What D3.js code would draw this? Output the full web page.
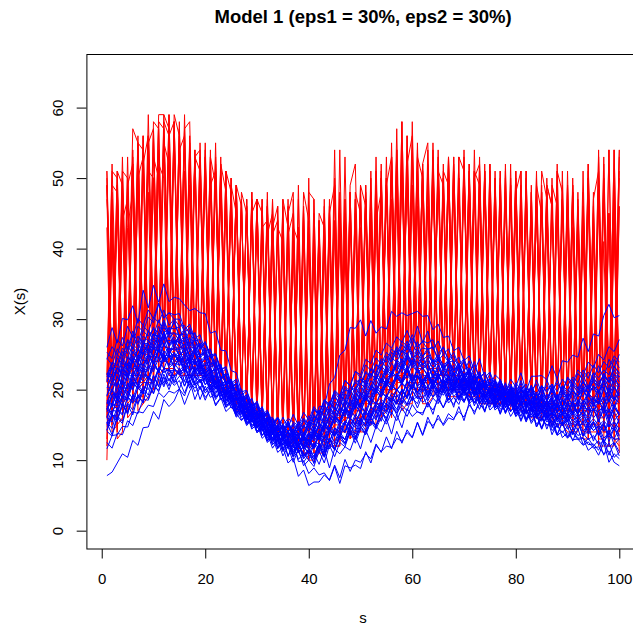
<!DOCTYPE html>
<html>
<head>
<meta charset="utf-8">
<script src="https://cdn.jsdelivr.net/npm/d3@7"></script>
<style>
  body { margin: 0; background: #fff; }
  svg { display: block; }
  text { font-family: "Liberation Sans", Arial, Helvetica, sans-serif; fill: #000; }
</style>
</head>
<body>
<svg id="chart" width="633" height="629"></svg>
<script>
// Grid of evaluation points s = 1..100
const sValues = d3.range(1, 101);
const xTicks = [0, 20, 40, 60, 80, 100];
const yTicks = [0, 10, 20, 30, 40, 50, 60];

// Contaminated curves (drawn in red)
const redCurves = [
  [10,41,13,14,43,48,17,18,48,20,21,55,52,22,23,22,49,22,22,53,21,21,20,46,19,18,47,17,16,46,15,14,42,44,13,12,12,43,11,10,40,11,11,46,12,12,40,13,14,14,46,15,45,16,17,50,18,18,19,49,19,19,46,20,19,51,49,20,20,20,47,19,19,51,18,18,18,48,18,17,46,17,16,16,47,16,15,48,15,14,14,44,13,13,45,13,41,12,12,46],
  [49,19,20,49,22,23,55,54,24,25,58,26,26,25,54,56,25,24,51,24,23,52,21,20,47,19,18,17,48,16,45,15,15,14,47,43,13,13,41,12,13,13,46,14,15,44,16,16,48,45,18,18,19,52,20,20,51,21,56,22,22,49,22,21,52,21,21,21,50,21,20,50,52,20,20,47,19,19,19,50,18,18,45,18,17,49,46,17,17,47,17,17,17,50,17,18,17,45,16,17],
  [15,16,46,18,19,51,20,21,22,50,23,24,56,58,24,24,23,53,23,23,49,21,50,20,19,49,18,17,16,44,15,46,14,13,13,12,42,12,11,44,11,41,12,13,44,14,14,45,15,16,16,45,17,18,50,19,19,55,20,21,50,21,21,52,21,21,21,48,21,51,20,20,20,20,52,19,47,19,49,18,18,51,17,46,17,17,16,16,47,16,43,15,45,15,15,47,14,14,42,14],
  [21,51,50,23,24,25,56,26,26,27,59,59,28,28,27,57,26,26,53,25,24,23,52,48,20,20,19,47,17,17,47,15,15,44,14,14,13,47,13,13,42,14,15,47,16,17,53,18,18,49,46,20,20,21,53,22,22,58,23,24,24,52,55,23,23,22,50,22,22,53,21,21,21,51,20,48,20,20,20,51,19,19,46,19,49,18,18,49,18,18,47,19,19,52,19,19,49,20,20,54],
  [43,14,15,44,47,18,19,19,51,50,22,23,23,56,22,22,52,22,22,22,49,51,20,19,47,17,17,16,48,15,15,14,41,13,13,42,45,12,11,42,11,12,41,12,13,45,14,14,44,15,15,16,44,48,17,18,51,19,19,49,20,20,20,52,20,48,20,20,50,20,19,50,19,19,46,18,18,50,18,18,46,17,17,17,17,49,46,16,16,46,15,15,43,14,14,14,14,45,13,13],
  [17,48,19,20,53,22,22,52,56,24,24,25,57,25,24,54,24,23,23,51,22,21,52,20,19,18,48,45,17,16,16,47,15,14,43,13,13,13,46,12,13,43,14,15,43,16,16,48,17,18,18,48,19,20,20,53,21,22,52,56,23,22,49,22,22,22,53,22,22,22,50,21,21,52,20,20,47,19,19,49,18,18,18,49,45,18,17,17,49,17,17,46,17,17,47,51,18,18,49,18],
  [51,21,51,22,23,54,24,25,25,58,57,27,27,58,26,26,25,54,24,24,54,22,21,48,19,49,18,17,17,47,16,15,43,46,14,14,13,43,13,13,47,14,15,44,16,16,17,48,18,18,48,19,19,48,20,20,21,54,22,22,53,50,22,21,51,21,21,53,21,21,20,20,49,20,20,50,19,19,47,19,18,50,18,18,18,48,18,18,47,18,50,19,19,51,19,20,50,20,21,54],
  [12,44,14,45,16,17,51,18,19,20,52,50,22,22,56,22,22,22,51,22,21,53,20,20,49,45,18,17,16,16,46,14,14,46,13,12,42,11,45,10,10,11,42,12,12,12,42,13,45,14,14,45,15,16,49,16,48,17,18,18,46,18,18,19,51,49,19,19,19,50,19,48,18,18,18,18,51,18,17,48,17,17,45,16,16,48,16,15,15,44,14,14,44,13,42,12,12,12,44,11],
  [19,20,51,49,22,23,23,56,24,25,25,59,57,26,25,25,55,24,24,52,23,22,21,51,19,19,47,17,47,16,16,15,47,14,14,42,13,13,13,48,47,14,15,46,16,54,17,17,18,48,19,19,49,20,21,53,22,22,23,58,23,52,22,50,22,22,53,22,22,22,51,21,21,20,52,20,19,48,19,19,49,18,18,51,18,18,47,17,17,17,49,17,17,52,17,16,16,54,16,46],
  [51,17,18,19,49,52,21,22,22,56,23,24,24,59,56,24,23,54,23,23,22,51,21,20,49,18,18,46,17,16,16,46,15,14,47,13,13,43,12,12,13,45,43,14,15,15,47,16,17,17,47,18,18,51,19,20,54,20,51,21,21,21,52,21,21,50,21,21,53,51,20,20,20,51,20,19,19,52,19,19,48,18,18,50,18,17,17,51,48,17,17,47,18,18,18,54,18,19,54,19],
  [22,52,24,24,25,57,55,27,59,28,28,29,59,28,28,57,58,27,26,26,53,24,53,22,21,49,19,18,18,47,45,16,16,15,46,15,14,14,46,14,15,44,16,16,54,17,18,49,52,19,20,20,51,21,22,55,23,58,24,24,24,52,23,23,54,23,52,22,22,22,52,21,53,21,20,20,50,20,20,50,19,51,19,19,48,18,18,18,51,18,18,18,48,18,19,19,53,19,19,19],
  [50,15,49,17,18,19,50,53,21,21,54,23,23,23,58,22,22,53,51,22,21,21,50,19,19,18,47,17,16,47,15,14,47,13,13,12,43,41,11,11,42,12,13,45,14,14,44,15,16,16,47,17,18,18,50,19,20,52,21,21,51,21,21,54,21,21,21,51,21,21,20,51,49,20,20,51,19,19,49,18,18,18,48,17,17,17,49,46,16,16,48,16,15,50,15,15,52,15,15,50],
  [18,19,19,51,50,22,22,23,56,24,24,57,25,58,24,24,54,23,23,23,53,49,21,20,19,48,18,17,46,16,16,46,15,14,14,47,13,13,48,44,14,14,45,15,16,47,17,17,18,47,18,51,19,50,20,20,57,21,22,53,22,21,54,21,21,21,51,21,53,21,20,51,20,20,49,19,19,51,19,19,18,48,18,18,51,47,17,17,17,51,17,48,17,17,17,50,17,17,54,17],
  [16,49,48,18,19,52,21,21,22,57,23,24,55,24,24,59,23,23,23,53,22,21,21,51,48,18,18,47,16,16,47,14,14,43,41,13,12,49,12,12,13,44,14,14,50,15,16,46,17,17,49,18,49,19,20,53,21,21,53,22,55,21,21,21,51,21,21,52,21,21,52,20,20,50,20,50,19,19,19,51,18,18,48,18,18,17,50,17,17,17,48,17,17,17,46,18,18,54,18,18],
  [49,21,22,53,23,24,24,56,25,26,58,57,27,27,57,26,26,25,55,25,24,55,22,21,20,49,46,18,17,47,16,15,46,14,14,13,47,13,12,12,45,13,14,45,49,15,16,16,47,17,17,50,18,19,50,20,20,53,21,21,21,51,21,53,21,50,21,21,21,54,20,20,51,20,20,19,51,19,19,48,51,18,17,48,17,17,16,51,16,16,16,45,15,15,48,15,14,14,50,14],
  [15,16,49,18,50,21,22,22,55,57,24,25,59,25,24,24,56,24,23,54,22,21,51,20,50,18,18,17,47,16,16,48,15,14,14,45,48,14,13,50,14,14,47,15,16,16,47,17,18,49,19,19,53,20,21,21,54,22,56,23,54,22,22,55,22,22,53,22,22,52,21,54,21,20,51,20,19,19,52,19,19,49,19,19,18,50,18,52,18,18,18,18,51,19,19,53,19,20,20,53],
  [16,47,18,47,20,21,21,53,22,23,52,24,24,56,24,51,23,23,53,23,50,21,21,51,19,18,18,46,17,16,43,15,45,14,14,13,41,13,44,12,12,43,13,14,14,43,15,48,16,16,17,45,18,18,49,19,20,51,21,21,48,21,21,21,53,21,21,50,21,21,51,20,20,48,20,19,49,19,19,19,51,18,18,46,18,18,47,17,17,49,17,17,45,17,17,16,47,16,45,16],
  [49,20,47,22,23,53,24,25,53,26,26,58,56,26,26,26,54,25,25,55,24,50,22,21,20,49,19,18,45,47,16,15,15,43,14,46,13,13,13,42,14,14,42,15,49,16,17,17,47,18,47,19,20,50,21,21,51,22,23,54,23,23,50,22,22,52,22,22,49,22,21,51,21,20,20,48,19,19,50,19,19,46,19,19,48,18,18,18,47,18,49,18,18,46,18,48,18,19,19,51],
  [13,43,15,16,48,19,50,20,21,53,50,23,23,23,55,22,22,51,22,22,51,21,48,19,50,18,46,17,16,16,43,44,14,13,42,12,12,43,11,11,41,12,12,41,13,13,45,14,14,43,15,16,46,17,17,47,18,19,52,20,20,48,20,51,20,20,49,20,20,52,19,19,47,19,49,18,18,49,18,46,17,17,49,16,16,44,16,46,15,15,14,45,14,14,43,13,13,45,13,12],
  [47,22,23,50,24,25,55,26,55,27,27,56,28,28,57,27,26,53,54,25,24,23,50,21,47,20,19,47,17,17,16,42,45,14,14,14,41,13,13,43,14,41,15,16,16,48,17,46,18,19,49,20,20,21,49,53,22,23,50,24,24,52,23,23,50,22,22,53,22,22,48,21,51,21,20,20,48,20,20,49,19,19,19,46,19,47,18,18,18,49,18,18,46,19,19,49,19,19,47,20]
];

// Regular curves (drawn in blue)
const blueCurves = [
  [7.8,8.3,9.6,10.9,10.4,12.8,12.1,14.6,14.7,16.9,15.8,18.6,17.6,18.4,20.1,17.9,19.8,21.1,18.6,20.5,18.9,19.4,20.8,18.1,19.3,16.8,18.5,15.9,17.6,14.6,15.5,13.1,14.7,11.8,13.3,10.6,12.4,9.8,9.9,8.1,8.9,7.9,8.2,7.1,9.1,6.7,9.2,8.9,9.3,8.8,11.2,9.6,12.1,11.2,12.0,11.8,13.1,12.7,13.9,13.2,15.4,13.6,16.1,14.5,16.4,14.9,16.0,15.7,17.6,15.6,18.2,16.5,18.6,16.8,19.2,17.4,19.3,16.8,18.6,16.5,18.3,15.8,17.6,14.7,16.5,14.4,16.3,13.6,15.5,13.3,14.1,13.1,13.2,12.2,12.3,11.4,13.0,10.7,12.4,10.6],
  [26.0,28.8,26.6,30.1,29.9,31.9,29.4,34.1,31.6,34.8,32.4,35.0,32.5,33.1,32.9,32.0,31.2,31.5,30.9,30.8,28.0,28.3,25.6,25.5,22.7,22.4,19.7,19.9,17.9,18.1,16.1,16.9,14.6,15.4,13.5,15.5,12.9,13.8,13.2,15.3,15.1,17.6,17.6,20.8,21.7,24.9,25.6,28.8,28.7,29.9,27.6,29.8,28.0,28.9,28.6,31.1,30.4,30.9,30.5,30.8,31.1,30.4,30.5,28.5,29.3,27.4,27.6,25.5,26.0,24.1,24.8,22.6,24.4,21.7,22.5,20.6,21.3,19.5,21.5,20.4,22.4,19.7,21.9,21.9,22.0,21.4,23.4,21.5,24.1,23.9,24.9,24.6,27.3,25.4,27.9,27.6,30.5,32.1,30.2,30.5],
  [11.6,13.5,13.6,14.8,14.7,16.9,16.6,18.6,18.5,20.5,19.9,22.2,20.5,23.1,22.1,22.6,20.6,23.3,22.2,22.4,20.5,22.3,19.6,20.5,19.5,18.4,18.9,17.9,18.0,15.7,17.4,14.5,15.0,13.9,13.9,11.7,13.5,11.2,11.9,11.0,11.0,9.4,11.5,8.9,11.6,10.9,11.9,11.4,13.4,11.6,14.3,12.5,14.8,14.0,15.9,13.7,16.5,14.6,17.3,16.2,16.9,16.4,18.3,16.5,19.1,17.4,19.5,17.5,20.3,18.4,20.0,17.7,19.6,16.9,19.4,17.4,18.1,17.9,18.8,16.5,17.6,15.6,17.5,14.7,15.9,15.0,15.0,13.5,14.1,13.1,13.9,12.9,13.1,11.4,12.0,10.7,12.5,9.7,10.9,10.2],
  [21.9,21.9,24.5,23.6,26.1,25.2,26.0,26.1,28.3,27.7,29.9,28.0,28.8,28.6,28.9,26.7,28.5,25.6,26.6,24.4,24.9,22.9,23.0,20.7,21.3,19.1,19.4,17.4,18.0,16.1,16.3,15.2,15.8,13.7,14.9,14.1,14.4,13.2,15.0,14.1,16.1,15.9,17.9,16.7,19.3,17.6,19.9,19.7,21.0,20.4,22.4,21.6,23.5,22.9,24.8,24.0,25.9,23.7,26.3,24.5,25.0,24.2,24.8,23.9,24.1,23.1,23.9,22.9,23.1,21.4,22.5,20.6,22.4,20.4,21.1,19.5,21.5,19.4,20.1,19.1,19.9,19.6,20.1,18.4,19.3,19.0,19.8,18.2,19.1,18.9,19.9,19.1,20.0,19.7,20.3,19.4,21.4,19.5,21.8,20.4],
  [15.3,17.1,16.9,18.9,18.4,21.1,20.1,21.0,21.0,23.3,22.7,24.6,23.5,25.3,23.4,25.1,22.6,24.4,22.2,22.9,21.1,22.1,20.0,20.8,18.6,19.5,17.5,18.1,16.2,17.0,15.1,15.9,13.7,14.8,13.1,14.0,12.9,13.1,12.1,13.0,11.7,13.6,11.9,14.4,13.4,14.4,15.5,14.9,16.0,15.4,17.5,16.4,18.1,17.5,19.3,18.2,20.0,19.1,21.3,20.2,21.9,20.9,22.5,20.6,21.8,21.0,21.9,20.9,21.1,20.2,21.4,19.6,21.3,19.2,20.1,19.1,19.9,18.4,20.3,18.1,19.0,18.0,18.8,16.7,18.5,16.5,17.6,16.9,17.8,16.1,17.0,16.1,16.9,14.9,17.4,15.4,17.3,14.7,16.9,15.2],
  [20.0,19.7,21.8,21.1,23.6,22.9,24.9,24.1,26.4,25.7,27.6,26.5,27.0,26.7,26.9,24.7,25.5,23.6,24.3,22.4,23.1,21.0,21.9,19.4,20.0,17.7,18.3,16.2,17.1,16.6,15.0,15.9,13.9,14.8,13.1,14.1,13.0,13.8,11.9,13.9,13.1,15.0,14.2,16.1,15.2,17.4,16.7,18.5,17.4,19.4,18.5,20.5,19.9,21.6,20.6,22.5,21.9,23.6,21.6,23.5,22.4,23.1,22.1,22.9,21.4,23.3,21.2,22.4,20.6,22.3,20.4,21.4,19.6,20.8,19.1,20.1,19.0,19.8,18.1,19.0,18.0,18.9,17.2,18.1,17.1,17.9,16.4,18.3,16.6,18.4,16.7,18.6,17.9,19.5,17.6,19.6,17.7,20.3,18.4,20.0],
  [21.8,23.6,22.9,25.4,24.4,26.5,25.6,27.6,26.9,28.9,26.7,29.3,27.4,28.0,27.7,27.9,25.6,27.3,24.7,25.6,23.5,24.0,21.7,22.3,20.1,20.9,18.6,19.3,17.2,18.1,16.1,16.9,15.1,16.0,14.4,15.6,13.7,15.5,14.5,16.3,15.4,17.1,16.5,18.3,17.4,19.1,18.6,20.5,19.9,21.9,21.1,23.0,22.4,24.4,23.9,25.8,24.9,26.9,26.1,27.8,26.0,26.9,26.6,27.1,25.1,26.0,24.2,25.3,23.4,24.4,22.5,23.5,21.6,22.5,20.6,21.5,19.7,20.8,19.1,21.0,19.9,20.8,19.1,21.4,19.5,20.6,19.9,20.9,19.7,21.6,20.5,22.3,21.4,22.5,21.6,23.4,21.5,24.3,23.1,25.0],
  [14.2,16.3,15.6,18.1,16.5,19.3,18.7,20.5,20.0,22.0,20.5,23.1,22.6,22.8,22.1,23.3,21.2,22.0,21.0,21.6,19.9,20.9,19.0,19.8,18.1,18.9,16.6,17.3,15.4,16.1,14.2,15.0,12.9,13.9,12.1,13.0,10.9,12.5,10.5,11.3,10.2,12.3,10.6,13.1,11.5,13.6,12.9,15.0,14.1,15.8,15.0,17.1,16.1,18.1,16.9,18.8,18.0,20.1,18.9,20.6,19.7,20.8,19.1,21.3,19.6,20.5,18.5,20.4,18.8,19.8,19.0,18.1,20.1,18.2,18.9,17.9,18.6,16.7,18.5,16.9,17.8,16.7,17.6,16.0,16.9,15.9,16.6,14.6,16.5,14.9,15.8,14.9,15.1,14.2,15.5,13.5,15.4,12.6,14.6,13.4],
  [21.3,20.6,23.1,22.2,24.5,23.9,25.6,25.0,26.5,24.6,27.1,25.1,25.9,25.6,25.8,23.6,24.8,23.9,24.0,22.2,22.9,20.7,21.5,19.6,20.4,18.4,19.0,16.7,17.6,15.6,16.5,14.5,15.1,13.4,14.0,13.0,13.6,11.7,13.5,12.5,14.5,13.4,15.4,14.4,16.1,15.5,17.4,16.6,18.5,17.5,19.4,18.6,20.3,19.5,21.4,20.4,22.3,21.4,23.3,21.5,22.1,21.2,22.4,20.5,21.8,21.1,21.9,19.7,21.6,19.5,21.3,19.4,20.0,19.1,19.9,18.9,19.8,18.1,20.1,17.6,19.6,17.5,18.3,18.0,18.8,17.9,18.6,17.5,19.5,17.4,20.3,18.1,19.8,19.0,20.6,18.5,21.3,19.1,20.9,20.1],
  [18.1,17.5,20.3,19.4,22.1,20.5,23.3,22.4,24.4,23.9,25.5,24.7,25.0,24.0,24.6,22.5,24.3,22.1,23.3,21.2,21.9,20.1,20.8,18.6,19.1,17.2,17.9,15.7,16.6,14.5,15.6,13.5,14.1,13.0,13.0,12.1,12.8,11.1,12.0,11.7,13.6,12.9,15.1,14.1,16.3,15.2,17.3,16.1,17.9,17.4,16.9,18.8,17.9,19.9,18.9,20.9,19.9,20.8,20.0,22.1,20.4,22.3,20.5,21.5,20.7,21.6,19.6,21.4,19.5,21.3,19.4,20.5,18.5,19.8,18.9,19.6,17.6,19.4,17.9,18.8,17.7,18.0,16.4,18.3,15.7,17.5,15.4,16.1,15.2,15.9,15.0,15.8,14.1,15.0,14.2,14.9,14.1,15.1,14.2,15.9],
  [24.3,26.1,24.9,27.4,25.7,28.3,26.6,29.1,28.2,30.3,29.5,31.3,29.1,30.0,29.0,29.1,27.9,28.0,26.1,26.8,24.9,25.1,23.0,23.1,20.6,21.3,18.7,19.3,17.4,18.4,16.4,17.1,15.4,16.1,15.0,15.9,15.4,14.9,16.0,15.1,17.3,16.5,18.3,17.6,19.8,19.0,21.3,20.5,22.6,22.1,24.3,23.7,25.6,24.9,26.6,25.9,27.5,26.7,28.4,26.5,29.0,26.7,28.3,25.7,26.9,25.0,25.8,23.7,24.6,22.6,24.1,21.7,22.6,20.6,22.3,19.7,20.9,18.7,20.5,18.5,20.0,19.1,19.3,18.4,20.4,18.5,19.3,18.6,20.3,18.5,20.5,19.9,21.0,20.1,21.1,20.5,22.3,21.1,22.0,21.9],
  [15.3,13.6,16.3,15.5,18.1,17.1,19.3,18.2,21.0,19.5,22.1,20.4,22.4,20.9,21.9,21.1,21.1,20.2,21.3,19.5,20.5,18.6,19.8,18.0,18.9,16.6,17.6,15.7,16.9,15.1,15.9,13.9,14.9,13.4,14.1,12.5,13.8,11.9,14.0,13.2,15.3,14.4,16.4,15.4,17.5,16.5,18.6,17.6,19.5,18.6,20.6,19.9,21.9,21.1,22.9,22.1,23.8,22.9,24.6,23.1,23.9,22.9,23.6,21.6,23.5,21.4,23.3,20.7,22.5,20.5,21.6,19.6,20.8,19.1,19.9,18.6,20.5,18.2,19.1,17.5,19.5,17.4,19.4,16.7,18.6,17.4,19.3,17.5,19.6,18.9,19.9,19.1,20.6,19.5,21.4,19.6,21.6,20.4,22.3,21.1],
  [17.2,19.3,19.0,22.0,21.2,24.1,22.5,25.3,24.4,26.4,25.4,27.3,25.2,26.0,25.7,25.9,23.6,25.3,22.7,23.6,21.4,22.0,19.7,20.5,18.4,18.9,16.7,17.5,15.4,16.0,14.1,14.9,12.7,13.8,11.7,12.8,10.6,12.3,10.2,11.1,10.1,12.3,10.5,13.1,11.4,13.5,12.4,14.4,13.2,15.3,14.2,16.3,14.6,17.1,15.5,18.0,16.4,18.5,17.7,18.8,18.0,20.1,18.4,19.9,19.1,21.1,19.2,20.4,18.5,20.3,18.4,19.1,18.0,19.5,17.5,19.3,17.2,18.0,16.9,17.8,15.7,17.5,15.5,16.6,14.6,16.5,15.0,15.8,14.9,15.6,13.6,15.5,13.4,14.1,13.1,13.9,12.4,14.3,12.2,13.0],
  [21.1,23.1,21.6,24.3,22.7,25.4,24.2,26.3,25.1,27.3,26.2,28.3,26.4,27.1,26.6,26.9,24.7,25.8,24.9,25.1,23.2,23.8,21.5,22.1,20.1,20.8,18.5,19.1,17.1,17.9,15.9,16.8,14.7,15.9,14.2,15.0,14.1,14.8,12.9,14.8,14.0,16.1,15.2,17.3,16.4,18.3,17.5,19.4,18.4,20.3,19.4,21.3,20.5,22.3,21.5,22.4,23.3,22.4,24.4,23.5,25.3,23.5,24.1,23.1,23.8,21.7,23.5,21.5,23.3,21.1,22.0,20.5,22.4,20.2,21.1,19.5,21.3,19.2,20.1,19.1,19.9,18.9,19.6,17.6,18.8,18.0,18.9,16.7,18.5,17.0,17.9,16.9,17.8,17.0,17.1,16.9,17.6,15.6,17.5,16.4],
  [12.5,11.7,13.8,13.6,15.6,14.9,16.9,16.7,17.8,17.6,19.6,18.9,19.8,19.5,20.1,19.1,21.3,18.6,20.4,18.5,20.3,17.7,18.8,17.9,18.0,16.2,17.1,15.1,15.8,13.9,14.5,12.5,13.3,11.1,11.8,9.6,10.3,7.7,8.6,6.4,6.9,6.9,7.9,7.2,9.3,7.5,10.1,8.4,10.0,9.7,10.9,10.2,12.3,11.1,13.3,11.6,14.1,12.4,14.3,13.2,15.3,13.5,15.5,14.9,15.9,15.1,16.6,15.9,16.9,16.1,17.8,16.9,17.9,17.1,18.6,17.9,18.8,16.6,18.3,16.2,16.9,15.9,16.2,16.5,14.4,16.3,13.6,15.3,13.2,13.9,12.9,13.0,12.1,12.6,11.7,11.9,10.9,11.3,9.7,9.2],
  [15.8,18.0,17.2,19.3,18.5,21.1,20.1,22.3,21.4,24.0,22.5,25.1,23.4,25.3,24.1,24.6,23.9,23.9,23.0,23.5,24.1,22.1,22.8,20.7,21.5,19.5,20.1,17.9,18.8,16.7,17.6,15.6,16.1,14.1,15.0,13.2,14.1,12.5,13.3,12.2,14.0,13.1,15.3,14.4,16.4,15.4,17.5,16.4,18.5,17.5,19.3,17.7,19.8,19.0,20.9,20.0,21.8,20.9,22.0,21.2,23.1,21.4,22.1,21.2,22.3,20.5,21.8,20.9,21.6,19.6,21.4,19.5,21.3,19.1,20.0,18.5,20.3,18.2,19.0,18.0,18.9,17.9,18.6,16.6,17.8,17.0,17.9,15.7,17.5,16.4,18.3,16.5,17.8,17.1,18.6,17.9,18.9,16.7,18.8,18.1],
  [22.3,22.1,24.9,24.4,27.1,26.5,29.0,28.2,30.3,29.5,32.1,30.1,30.9,30.6,30.8,28.5,29.3,27.2,27.8,25.5,25.8,23.2,23.5,21.0,21.1,18.6,19.1,17.1,17.8,15.7,16.5,14.4,15.0,13.2,13.9,11.7,12.8,11.9,13.0,12.1,14.3,13.2,15.4,14.4,16.3,15.5,17.4,16.4,18.3,17.4,19.3,18.5,20.3,19.5,21.3,20.4,22.3,21.2,22.9,21.7,22.0,21.1,21.9,20.2,22.3,20.4,22.1,19.9,20.9,19.4,21.3,19.1,19.9,18.4,20.4,18.4,19.1,18.1,20.1,17.6,19.4,17.4,18.1,17.9,18.6,18.0,18.8,16.6,18.6,17.9,19.5,17.5,20.3,18.2,19.0,18.1,20.4,18.4,20.5,19.2],
  [14.8,16.4,15.5,18.1,16.6,19.3,18.1,20.3,19.2,22.0,20.4,23.1,21.2,22.8,22.5,22.9,21.9,22.0,21.0,22.5,20.5,21.4,19.4,20.1,18.1,19.0,17.0,17.9,15.7,16.6,14.6,15.6,13.6,14.8,13.1,15.3,12.9,14.6,13.5,15.4,14.4,16.4,15.5,17.5,16.6,18.5,17.7,19.8,18.9,20.9,20.1,22.3,21.4,23.4,22.5,24.5,23.9,25.6,24.9,26.5,25.2,25.9,25.7,26.1,24.1,25.0,23.9,24.1,22.4,24.3,21.6,22.6,20.5,21.5,19.6,21.3,18.7,20.5,18.6,20.6,19.4,20.1,19.9,20.8,18.6,21.4,19.5,21.5,19.6,21.8,20.9,22.8,22.0,23.9,23.1,25.0,24.2,26.1,25.4,27.1],
  [18.1,20.1,18.6,21.3,20.2,22.4,21.9,23.5,23.0,24.6,23.9,25.5,24.6,24.9,23.9,24.5,22.4,24.1,22.0,22.8,21.1,21.8,19.6,20.4,18.4,18.9,16.7,17.5,15.4,16.1,14.1,14.9,12.9,13.8,12.1,13.0,11.1,12.1,11.0,12.8,11.9,14.1,13.0,15.3,13.6,15.5,15.0,17.1,16.1,18.1,16.5,18.6,17.9,19.6,18.9,20.5,19.9,21.0,20.2,22.3,20.5,21.1,20.1,22.3,20.4,21.2,21.0,20.0,22.1,20.1,20.9,19.2,21.3,19.1,19.8,18.9,19.6,17.5,19.5,18.2,20.1,17.6,18.1,17.2,19.3,16.5,18.5,15.7,17.6,16.0,18.3,16.2,16.9,16.1,18.3,17.0,17.6,15.5,17.5,16.7],
  [16.1,15.4,17.5,16.5,19.0,18.2,20.3,19.4,21.9,21.1,23.1,22.4,23.0,21.9,22.6,20.5,22.3,20.7,21.5,19.9,20.8,18.9,19.6,17.6,18.5,16.4,17.1,15.2,16.0,14.1,14.8,12.7,13.9,11.7,12.9,11.9,12.1,11.1,11.9,11.0,12.2,13.3,11.6,14.1,12.5,14.5,13.9,16.0,15.1,17.1,15.4,17.6,16.9,18.6,17.9,19.5,18.9,19.9,19.1,21.3,19.5,21.4,19.4,20.5,19.7,20.6,18.5,20.3,19.0,19.8,18.2,20.3,18.1,18.9,17.9,18.6,16.6,18.5,16.9,17.9,16.9,17.0,16.1,16.8,15.5,17.4,14.6,16.5,15.0,15.6,13.7,15.6,13.4,14.9,12.7,14.5,12.5,13.8,12.9,13.1],
  [25.3,24.4,27.1,26.2,29.0,27.4,30.1,29.1,31.3,30.1,32.3,30.2,30.9,30.0,30.0,28.1,28.8,26.9,27.1,25.1,25.6,23.1,23.6,21.1,21.1,18.6,19.1,17.2,18.0,15.9,16.8,14.7,15.9,14.2,15.0,14.1,14.9,13.7,15.6,14.6,16.5,15.6,17.6,16.9,18.9,18.2,20.3,19.4,21.4,20.7,22.6,21.9,23.6,22.9,24.6,23.9,25.5,24.7,26.4,24.9,25.6,24.7,25.5,23.5,24.6,23.6,23.9,22.2,23.0,21.2,23.1,21.0,21.9,20.1,21.0,19.9,20.8,19.1,20.1,19.1,19.9,19.0,20.6,18.6,19.3,18.5,20.5,18.6,20.6,19.9,20.9,20.1,22.1,20.4,22.4,21.7,22.8,22.1,24.3,23.1],
  [16.8,19.1,18.0,20.3,19.1,22.0,20.4,23.1,21.5,24.1,22.4,25.0,23.1,23.8,23.5,23.6,21.6,22.5,21.7,21.9,20.0,20.8,18.6,19.5,17.4,17.9,15.7,16.6,14.6,15.6,13.5,14.5,12.5,13.6,11.6,12.5,10.5,12.3,10.2,11.3,9.5,12.1,10.4,13.0,11.5,13.5,12.9,15.0,13.4,14.5,15.5,14.9,17.0,15.5,18.1,16.5,18.6,17.9,20.1,18.4,20.5,19.7,20.5,18.9,19.9,19.6,21.1,19.0,19.8,18.2,20.1,18.1,18.9,17.9,19.1,17.1,17.9,16.9,18.1,16.2,17.3,15.4,17.1,15.1,15.9,14.9,15.6,13.6,15.3,13.2,14.5,13.5,13.8,12.9,13.5,12.2,12.8,11.9,12.5,11.2],
  [19.2,21.3,20.5,23.8,22.9,25.4,24.7,26.6,26.5,27.8,27.6,28.8,27.9,28.1,26.9,27.5,25.4,26.4,24.5,25.3,23.2,23.8,21.5,22.0,19.7,20.5,17.9,18.8,16.6,17.6,15.5,16.1,14.2,14.9,12.7,13.9,13.1,13.6,11.7,13.6,12.9,15.1,14.1,16.3,15.2,17.3,16.2,18.3,17.2,19.3,18.4,20.3,19.4,21.3,20.4,22.3,21.4,23.3,22.4,24.1,22.4,23.1,21.9,22.8,21.9,22.5,20.5,22.3,20.7,21.6,20.0,22.0,19.9,20.8,19.1,21.1,18.5,19.6,18.4,20.3,17.7,19.6,17.5,19.5,17.4,18.1,17.2,19.3,17.5,19.4,18.7,19.8,19.0,20.6,19.9,20.9,20.1,21.8,20.9,21.9],
  [14.1,13.4,16.0,15.2,17.9,16.4,19.1,18.1,20.9,19.4,21.5,20.7,21.6,20.6,21.3,19.5,21.4,19.7,20.5,18.9,19.8,17.9,18.9,16.9,17.6,16.6,15.6,16.5,14.4,15.1,13.1,13.8,11.7,12.8,10.6,11.9,9.7,11.5,9.2,10.0,9.1,11.3,9.6,12.1,10.5,12.5,11.9,14.1,12.4,14.4,13.7,15.5,14.9,16.6,15.9,17.5,16.7,17.8,17.0,19.1,17.4,19.3,17.5,18.8,18.0,20.0,18.1,18.9,17.9,19.9,18.0,18.8,17.2,19.1,17.1,17.9,16.9,18.1,16.2,17.4,15.5,17.3,15.2,16.4,14.4,16.3,14.2,14.9,13.9,14.8,12.7,14.5,12.2,13.1,12.0,12.8,10.7,12.5,10.4,11.1],
  [21.3,23.3,22.2,24.5,23.4,26.1,24.5,27.1,25.4,28.0,26.2,28.1,26.1,26.9,25.9,26.5,24.4,26.1,23.6,24.5,22.4,22.9,20.6,21.3,19.2,19.8,17.6,18.3,16.2,16.9,14.9,15.8,13.9,15.1,13.5,15.5,13.6,15.4,13.7,15.6,14.9,17.1,16.1,18.3,17.2,19.3,18.2,20.3,19.7,21.5,20.9,22.9,22.0,24.1,23.1,25.3,24.5,26.4,25.6,27.3,26.0,26.8,25.7,26.0,24.4,26.1,24.0,24.8,23.1,23.9,22.2,24.0,21.5,22.5,20.5,22.1,21.4,19.7,20.8,19.2,21.3,19.5,20.1,18.5,20.5,19.9,20.8,18.7,20.5,19.5,21.5,20.2,21.1,20.1,22.3,21.1,21.9,21.0,23.3,22.2],
  [18.3,18.0,21.0,20.1,22.3,21.7,23.6,23.5,24.8,24.6,26.3,24.4,25.5,24.7,24.9,23.7,24.5,22.5,24.1,21.9,22.0,20.1,20.8,18.5,19.1,17.1,17.8,15.7,16.6,14.6,15.6,13.6,14.6,12.7,14.3,12.2,13.1,12.1,13.0,12.9,14.8,14.0,16.1,15.1,16.9,16.2,18.3,17.2,19.1,17.6,19.6,18.9,20.6,19.9,21.6,20.9,21.9,21.1,23.1,21.2,22.0,21.0,21.8,20.7,21.5,19.6,21.4,19.9,20.8,19.1,21.1,19.0,19.9,18.9,19.6,18.1,19.0,18.0,18.8,17.1,17.9,16.9,17.6,16.1,17.5,16.0,16.8,15.9,16.6,15.7,16.6,15.6,16.5,15.0,15.9,14.9,15.6,14.7,15.5,14.4],
  [17.9,19.9,18.4,21.1,19.5,22.0,20.5,23.1,21.4,23.9,22.4,24.3,23.5,23.8,22.7,23.5,21.5,23.1,21.1,21.9,20.1,21.3,19.1,19.9,18.1,18.8,16.7,17.8,16.0,16.8,14.7,15.6,13.6,14.8,13.1,13.9,11.7,13.4,11.5,12.8,12.1,12.5,14.3,12.6,14.6,13.9,15.6,14.9,16.5,15.7,16.9,16.2,18.3,17.2,19.3,18.2,20.1,19.1,21.1,20.0,22.0,20.2,22.1,20.1,21.0,19.9,21.9,20.0,20.8,19.9,21.1,19.1,21.0,19.0,19.8,18.9,19.6,18.6,19.3,17.2,18.5,17.7,18.4,16.2,18.1,16.1,16.8,15.9,17.4,15.5,17.5,16.7,18.5,17.7,18.8,18.0,20.1,18.2,20.3,19.1],
  [17.3,16.4,19.1,18.2,21.0,20.1,22.3,21.7,23.5,22.9,25.8,24.1,24.9,24.6,25.5,23.9,24.6,23.5,23.8,21.9,22.5,20.2,20.8,18.6,19.3,16.7,17.5,15.4,16.1,14.1,14.9,12.7,13.8,11.6,12.8,10.5,12.3,10.1,11.0,10.0,12.3,11.1,13.3,11.6,14.1,13.1,15.3,13.5,15.5,14.9,16.6,16.0,17.6,16.9,18.0,17.2,19.3,18.1,20.3,18.4,19.1,18.2,18.8,20.3,18.5,20.5,19.7,20.5,18.5,20.3,18.4,20.3,18.1,18.9,18.0,18.6,16.5,18.5,16.9,17.8,16.2,18.3,16.1,16.8,15.9,16.6,15.1,15.8,14.9,16.4,14.4,15.5,13.5,15.4,14.2,14.8,13.1,13.9,13.0,14.6],
  [20.2,22.1,20.6,23.3,21.7,24.3,22.6,25.3,23.5,26.1,24.4,26.4,25.6,25.9,24.9,25.5,23.5,25.3,23.1,23.9,22.0,22.6,20.5,21.1,19.1,19.8,17.6,18.1,16.2,17.0,14.9,15.8,13.7,14.9,13.2,14.0,12.4,13.1,12.2,13.8,13.1,15.3,14.4,16.5,15.9,17.6,16.9,18.6,17.9,19.6,18.9,20.6,19.9,21.6,20.9,22.5,21.9,23.5,22.7,24.3,23.0,23.8,22.7,23.0,21.9,22.8,21.7,22.5,20.5,22.3,20.4,22.1,20.1,20.9,19.2,20.0,18.4,20.3,18.4,19.1,18.1,20.3,17.6,19.4,17.5,18.1,17.2,19.3,17.4,19.4,17.5,18.1,17.2,19.3,18.1,18.8,16.6,19.4,17.5,19.6],
  [15.3,14.5,17.1,16.4,19.0,18.1,20.3,19.4,21.9,20.9,23.1,22.5,22.8,21.9,22.5,20.5,22.3,20.6,21.5,19.9,20.8,18.9,19.6,17.5,18.5,16.5,17.5,15.6,16.6,14.6,15.5,13.6,14.8,13.1,14.1,13.2,15.1,13.4,14.9,14.1,16.3,15.2,17.4,16.4,18.3,17.5,19.4,18.5,20.4,19.4,21.3,20.4,22.4,21.4,23.3,22.4,24.3,23.4,25.3,23.5,24.1,23.1,23.8,21.7,23.0,22.0,22.8,20.7,22.5,20.5,22.3,20.2,21.0,19.2,20.1,18.5,20.4,18.4,19.6,18.9,19.1,18.2,19.8,17.6,19.5,17.5,18.1,17.4,19.5,18.9,19.9,19.1,21.3,19.5,21.5,20.9,21.9,21.2,23.3,22.4],
  [17.2,19.3,19.4,22.1,22.2,24.5,23.9,26.1,25.6,27.8,27.5,29.6,27.9,29.8,27.6,28.6,26.5,28.1,25.9,26.8,24.5,25.0,22.4,22.9,20.4,20.9,18.4,19.0,16.9,17.5,15.5,16.0,15.3,14.1,14.9,13.1,14.1,12.1,13.3,11.4,12.5,11.6,13.6,12.5,14.5,13.4,15.3,14.2,16.1,14.9,16.9,15.9,17.8,17.1,18.9,18.2,20.0,19.1,21.1,20.0,21.8,20.7,21.5,20.6,22.3,20.2,21.9,19.9,21.8,20.1,21.9,20.0,21.1,20.1,20.8,18.9,20.5,18.5,19.6,18.0,19.0,17.9,18.6,16.9,17.9,16.1,17.8,15.7,16.9,15.4,16.3,15.2,16.1,14.5,15.5,14.4,15.3,13.6,15.4,13.5],
  [20.5,19.9,21.8,20.7,22.9,21.9,23.8,22.9,24.9,23.7,25.8,24.1,26.0,23.9,24.9,23.2,24.3,22.5,23.5,21.7,22.3,20.4,20.9,18.9,19.4,17.2,18.1,15.9,16.8,14.6,15.3,13.4,14.1,12.5,13.5,12.4,13.1,11.9,12.9,12.0,14.0,12.9,14.9,14.0,15.8,14.9,16.9,15.7,17.8,16.9,18.9,17.9,20.0,19.0,21.1,19.9,22.0,20.9,22.8,21.1,23.0,20.9,22.6,20.5,22.3,20.4,21.4,20.5,21.6,21.0,19.9,20.9,19.9,20.5,19.2,20.0,18.9,19.8,18.1,19.9,17.7,19.3,17.2,18.8,16.7,18.4,16.5,17.6,16.5,18.3,16.4,18.5,17.5,18.6,17.7,18.8,18.0,19.3,18.5,19.6],
  [17.6,16.6,18.8,17.7,19.8,18.7,20.8,19.6,21.9,20.6,22.8,20.9,23.0,21.1,23.1,21.2,22.9,21.0,22.8,20.7,21.8,19.6,20.5,18.4,19.1,17.2,17.9,16.1,17.0,15.2,15.8,14.1,14.9,13.4,14.3,13.1,14.5,12.5,13.6,12.6,14.5,13.4,15.3,14.5,16.0,15.2,17.1,15.9,17.8,16.7,18.8,17.7,19.9,18.9,20.8,20.0,21.8,20.7,22.8,20.9,22.9,20.7,22.5,20.4,22.3,20.5,21.5,20.6,21.5,19.7,21.5,19.4,20.4,19.5,20.1,18.9,19.8,18.0,19.8,17.7,19.5,17.5,19.3,17.2,19.0,17.1,18.9,16.9,18.8,16.7,18.6,16.5,18.3,16.4,18.2,16.1,18.0,16.2,17.9,16.6],
  [22.1,23.9,23.4,25.9,25.1,27.8,26.1,28.3,27.6,28.6,28.1,29.9,28.0,29.6,27.4,28.3,26.2,27.1,24.9,25.9,23.6,24.3,21.7,22.3,20.1,20.3,18.2,18.9,16.9,17.8,15.7,16.8,14.7,15.9,14.1,15.3,13.5,15.1,13.2,14.8,13.9,16.1,15.2,16.2,17.3,16.6,18.5,17.7,19.8,18.7,20.9,19.9,21.9,20.9,23.0,21.9,24.1,23.0,25.0,23.9,25.9,24.1,24.9,23.9,24.5,22.9,23.8,21.9,23.6,21.6,22.6,21.1,22.1,20.9,21.6,20.4,21.1,19.9,20.8,19.0,20.9,18.9,20.6,18.6,20.4,18.4,20.2,18.2,19.9,18.7,19.8,19.0,20.3,19.5,20.5,19.7,20.8,20.0,21.3,20.5],
  [14.3,16.3,16.4,19.0,18.9,21.5,20.9,23.1,22.6,24.9,24.4,26.5,24.9,26.8,24.7,25.9,23.9,25.6,23.5,24.5,22.5,23.0,20.7,21.3,18.9,19.5,17.2,17.9,15.9,16.6,14.5,15.1,13.1,14.0,12.2,13.1,11.4,12.3,10.6,11.6,10.5,12.4,11.4,13.1,12.2,14.0,12.9,14.9,13.7,15.6,14.7,16.6,15.9,17.6,16.9,18.8,17.9,19.9,18.7,20.8,19.1,21.0,18.9,20.8,19.0,21.1,19.1,20.9,18.9,20.8,18.9,20.5,18.5,20.1,18.1,19.8,17.7,18.9,17.6,18.5,17.2,18.1,16.9,17.6,16.4,17.3,16.1,16.9,15.7,16.6,15.5,16.3,15.2,16.0,14.6,15.8,14.1,15.5,14.6,15.6],
  [21.6,21.1,23.1,22.6,24.6,23.9,25.8,25.1,26.9,26.2,28.0,26.1,28.1,25.9,27.8,25.7,27.4,25.4,26.5,24.4,25.0,22.7,23.3,21.0,21.5,19.2,19.9,17.7,18.6,16.4,17.1,16.2,15.2,15.9,14.1,15.3,13.4,14.5,12.7,13.9,12.7,13.8,13.0,14.6,13.5,14.8,13.9,15.5,14.6,15.9,14.9,16.6,15.7,17.5,16.6,18.3,17.2,19.1,17.9,19.9,18.7,20.5,19.0,20.9,19.4,21.3,19.7,21.6,20.0,21.9,20.1,21.8,19.9,21.6,19.6,21.3,19.4,21.0,19.1,20.3,18.5,20.0,18.0,19.3,17.4,18.6,16.9,18.0,16.4,17.5,16.5,17.3,16.2,17.6,16.0,16.9,15.9,17.3,15.6,16.5],
  [15.2,16.5,15.9,17.6,16.9,18.8,17.9,19.8,18.7,20.9,19.7,21.8,20.0,22.0,20.1,22.1,20.2,21.9,20.0,21.8,19.7,20.5,18.6,19.3,17.4,18.0,16.1,16.9,14.9,15.6,13.6,14.3,12.2,13.1,11.4,12.4,11.2,12.6,10.7,11.5,10.5,12.3,11.1,13.0,11.7,13.5,12.4,14.1,12.9,14.8,13.6,15.5,14.4,16.1,15.1,16.8,15.6,17.4,16.2,17.9,16.8,16.7,18.0,17.1,18.6,17.5,18.8,17.9,19.1,18.2,19.8,18.1,19.8,17.9,19.6,17.6,19.3,17.4,18.9,17.1,18.3,16.5,17.8,15.9,17.1,15.4,16.3,14.7,15.9,14.4,15.4,14.2,15.6,13.7,15.3,13.6,15.0,13.2,14.6,12.9],
  [24.5,23.5,25.8,24.7,26.9,25.7,27.6,26.4,28.3,27.1,29.0,27.1,28.8,26.5,27.5,25.4,26.1,24.2,24.9,22.7,23.3,21.0,21.5,19.2,19.8,17.5,18.1,16.2,16.9,15.1,15.8,13.9,14.9,13.6,14.8,13.9,15.3,14.2,15.8,14.9,17.1,16.4,18.6,17.9,19.9,19.2,21.3,20.6,22.6,21.7,23.5,22.7,24.5,23.6,25.3,24.5,26.1,25.2,26.9,25.1,26.8,24.7,25.9,23.9,25.0,23.2,24.3,22.7,23.6,21.9,22.8,20.9,21.9,19.9,20.8,18.9,19.9,18.7,19.8,18.9,20.1,19.1,20.3,19.4,20.6,19.6,20.8,19.7,21.5,20.5,21.8,21.0,22.8,21.6,23.5,22.4,24.0,23.1,24.8,23.9],
  [18.5,17.7,19.6,18.9,20.8,19.9,22.0,21.2,23.3,22.5,24.6,22.9,24.9,23.0,24.8,22.7,24.3,22.5,23.6,21.9,22.6,20.7,21.3,19.4,20.0,18.1,18.8,17.0,17.9,15.9,16.9,14.9,15.9,14.4,16.1,14.6,16.5,14.9,16.8,15.7,17.6,16.6,18.5,17.7,19.6,18.6,20.5,19.7,21.0,21.5,20.6,22.3,21.4,23.0,22.1,23.8,22.6,24.4,23.2,24.9,23.1,24.8,22.7,24.3,22.4,23.6,21.9,23.5,21.5,22.8,21.1,22.1,20.4,21.4,19.6,20.6,18.9,19.9,18.7,19.6,18.2,19.8,17.9,19.6,17.7,19.4,17.5,19.1,17.6,18.8,17.9,19.3,18.2,19.6,18.6,20.0,18.4,20.3,18.7,20.9],
  [19.1,20.9,20.4,22.9,22.2,24.8,23.7,25.8,24.9,26.9,25.9,27.9,26.2,27.1,25.9,26.5,24.7,25.6,23.9,24.8,22.5,22.8,20.5,20.8,18.5,18.8,16.5,17.0,14.9,15.6,13.5,14.3,12.2,13.0,11.2,12.1,10.4,11.3,9.7,10.8,9.7,11.6,10.6,12.3,11.5,13.1,12.2,13.9,13.0,14.8,13.9,15.9,14.9,16.9,16.0,17.8,16.9,18.9,17.9,19.8,18.8,18.7,19.9,19.0,20.3,19.2,20.5,19.5,20.6,19.6,20.8,19.1,20.3,18.6,19.8,18.0,19.3,17.5,18.8,17.1,18.3,16.6,17.8,16.1,17.3,15.7,16.9,15.4,16.6,15.5,16.8,15.7,17.1,15.6,17.3,15.7,17.4,15.9,17.5,16.4],
  [22.3,21.4,23.1,21.9,23.8,22.7,24.4,23.4,25.0,23.9,25.6,23.9,24.9,23.2,24.3,22.4,23.5,21.7,22.8,20.7,21.3,19.1,19.8,17.5,18.1,16.1,16.8,14.9,15.8,13.9,14.8,12.9,13.9,12.2,13.3,11.7,12.9,11.4,12.6,11.7,13.8,12.9,14.9,14.2,16.3,15.5,17.5,16.7,18.8,17.9,20.0,19.2,21.3,20.5,22.5,21.7,23.6,22.9,24.8,23.5,24.6,23.4,24.5,22.9,24.4,22.7,23.9,22.6,23.8,21.9,23.0,21.2,22.3,20.5,21.5,19.7,20.8,19.2,20.5,18.9,20.4,18.7,20.2,18.5,20.0,18.4,19.9,18.6,20.3,19.1,20.8,19.5,21.3,20.0,21.8,20.4,22.3,21.0,22.8,21.8],
  [16.1,18.0,17.7,20.3,20.1,22.6,22.1,24.3,23.7,26.0,25.4,27.6,26.4,27.5,26.5,27.3,26.2,27.0,25.7,26.6,24.5,25.0,22.7,23.3,20.9,21.5,19.2,19.8,17.6,18.1,15.9,16.5,14.2,14.9,13.0,14.1,12.2,13.3,11.6,12.8,11.6,13.5,12.5,14.3,13.4,15.1,14.1,16.0,14.9,16.8,15.7,17.5,16.6,18.3,17.4,19.1,18.1,20.0,18.9,20.8,19.5,21.1,19.6,21.3,19.8,21.5,20.0,21.8,20.2,21.9,20.1,21.3,19.6,20.8,19.1,20.3,18.6,19.8,18.2,19.3,17.7,18.9,17.2,18.5,16.9,18.1,16.5,17.8,16.5,17.9,16.7,18.1,16.9,18.3,17.0,18.4,17.2,18.5,17.4,18.9]
];

const svg = d3.select("#chart");

// Plot region and scales (s axis padded 4% on each side, y axis 0..65 padded 4%)
const plotLeft = 86.4, plotRight = 639.8, plotTop = 54, plotBottom = 549;
const x = d3.scaleLinear().domain([-2.96, 103.96]).range([plotLeft, plotRight]);
const y = d3.scaleLinear().domain([-2.6, 67.6]).range([plotBottom, plotTop]);

svg.append("defs").append("clipPath").attr("id", "plot-clip")
  .append("rect")
  .attr("x", plotLeft).attr("y", plotTop)
  .attr("width", plotRight - plotLeft).attr("height", plotBottom - plotTop);

const line = d3.line()
  .x((d, i) => x(sValues[i]))
  .y(d => y(d));

const curves = svg.append("g").attr("clip-path", "url(#plot-clip)");

curves.selectAll("path.red")
  .data(redCurves)
  .join("path")
  .attr("class", "red")
  .attr("d", line)
  .attr("fill", "none")
  .attr("stroke", "#ff0000")
  .attr("stroke-width", 1);

curves.selectAll("path.blue")
  .data(blueCurves)
  .join("path")
  .attr("class", "blue")
  .attr("d", line)
  .attr("fill", "none")
  .attr("stroke", "#0000ff")
  .attr("stroke-width", 1);

// Box around the plot region
svg.append("rect")
  .attr("x", plotLeft + 0.5).attr("y", plotTop + 0.5)
  .attr("width", plotRight - plotLeft).attr("height", plotBottom - plotTop - 0.5)
  .attr("fill", "none").attr("stroke", "#000").attr("stroke-width", 1);

// Bottom axis
const xAxis = svg.append("g")
  .attr("transform", `translate(0,${plotBottom})`)
  .call(d3.axisBottom(x).tickValues(xTicks).tickSize(9.5).tickPadding(15.3).tickFormat(d3.format("d")));
xAxis.select(".domain").remove();
xAxis.selectAll(".tick line").attr("stroke", "#000");
xAxis.selectAll(".tick text")
  .attr("font-size", 15)
  .attr("font-family", "'Liberation Sans', Arial, Helvetica, sans-serif")
  .attr("fill", "#000");

// Left axis with labels turned parallel to the axis
const yAxis = svg.append("g")
  .attr("transform", `translate(${plotLeft},0)`)
  .call(d3.axisLeft(y).tickValues(yTicks).tickSize(9.7).tickFormat(d3.format("d")));
yAxis.select(".domain").remove();
yAxis.selectAll(".tick line").attr("stroke", "#000");
yAxis.selectAll(".tick text")
  .attr("x", null).attr("dy", null)
  .attr("transform", "translate(-23.1,0) rotate(-90)")
  .attr("text-anchor", "middle")
  .attr("font-size", 15)
  .attr("font-family", "'Liberation Sans', Arial, Helvetica, sans-serif")
  .attr("fill", "#000");

const midX = (plotLeft + plotRight) / 2;
const midY = (plotTop + plotBottom) / 2;

// Title and axis titles
svg.append("text")
  .attr("x", midX).attr("y", 22.7)
  .attr("text-anchor", "middle")
  .attr("font-size", 18.5).attr("font-weight", "bold")
  .text("Model 1 (eps1 = 30%, eps2 = 30%)");

svg.append("text")
  .attr("x", midX).attr("y", 623)
  .attr("text-anchor", "middle")
  .attr("font-size", 15)
  .text("s");

svg.append("text")
  .attr("transform", `translate(25,${midY}) rotate(-90)`)
  .attr("text-anchor", "middle")
  .attr("font-size", 15)
  .text("X(s)");
</script>
</body>
</html>
